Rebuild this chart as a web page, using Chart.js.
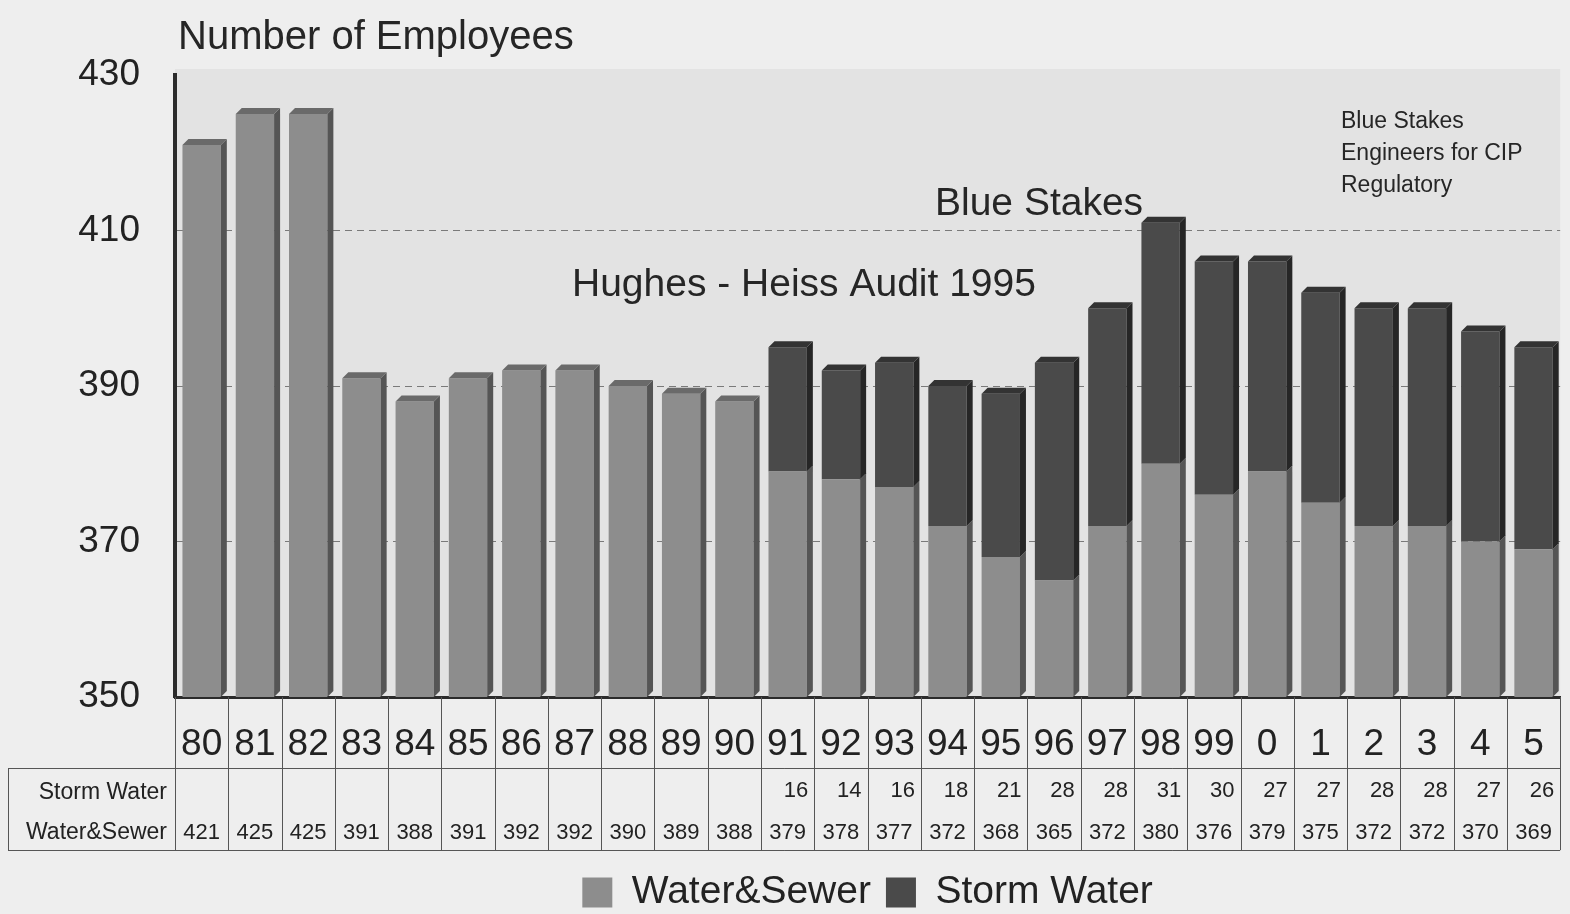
<!DOCTYPE html>
<html><head><meta charset="utf-8">
<script src="https://cdn.jsdelivr.net/npm/chart.js@4.4.1/dist/chart.umd.min.js"></script>
<style>html,body{margin:0;padding:0;background:#eeeeee;overflow:hidden}#wrap{width:1570px;height:914px;position:relative}</style>
</head><body><div id="wrap"><canvas id="c" width="1570" height="914"></canvas></div>
<script>
const years = ['80','81','82','83','84','85','86','87','88','89','90','91','92','93','94','95','96','97','98','99','0','1','2','3','4','5'];
const waterSewer = [421,425,425,391,388,391,392,392,390,389,388,379,378,377,372,368,365,372,380,376,379,375,372,372,370,369];
const stormWater = [null,null,null,null,null,null,null,null,null,null,null,16,14,16,18,21,28,28,31,30,27,27,28,28,27,26];
const yTickValues = [350,370,390,410,430];
const rowLabels = ['Storm Water','Water&Sewer'];
const annotations = [
  {text:'Number of Employees', size:40},
  {text:'Hughes - Heiss Audit 1995', size:39},
  {text:'Blue Stakes', size:39},
  {text:'Blue Stakes', size:23},
  {text:'Engineers for CIP', size:23},
  {text:'Regulatory', size:23}
];

const REG = "'Liberation Sans', Arial, Helvetica, sans-serif";
const WS_COLOR = '#8d8d8d', SW_COLOR = '#4a4a4a';
const WS_SIDE = '#555555', SW_SIDE = '#262626';
const WS_TOP = '#6a6a6a', SW_TOP = '#333333';

const bgPlugin = {
  id:'bg',
  beforeDraw(chart){
    const {ctx, chartArea:ca} = chart;
    ctx.save();
    ctx.fillStyle = '#eeeeee';
    ctx.fillRect(0,0,chart.width,chart.height);
    ctx.fillStyle = '#e3e3e3';
    ctx.fillRect(ca.left, ca.top-6, ca.right-ca.left, ca.bottom-ca.top+6);
    ctx.restore();
  }
};

const depthPlugin = {
  id:'depth3d',
  afterDatasetsDraw(chart){
    const ctx = chart.ctx; const d = 6; const ca = chart.chartArea;
    const metas = [chart.getDatasetMeta(0), chart.getDatasetMeta(1)];
    const sides = [WS_SIDE, SW_SIDE], tops = [WS_TOP, SW_TOP];
    ctx.save();
    metas.forEach((meta, di) => {
      meta.data.forEach((el, i) => {
        const ds = chart.data.datasets[di].data[i];
        if (ds === null || ds === undefined) return;
        const p = el.getProps(['x','y','base','width'], true);
        const left = p.x - p.width/2, right = p.x + p.width/2;
        const top = Math.min(p.y, p.base), bottom = Math.min(Math.max(p.y, p.base), ca.bottom);
        ctx.fillStyle = sides[di];
        ctx.beginPath();
        ctx.moveTo(right, bottom); ctx.lineTo(right, top);
        ctx.lineTo(right+d, top-d); ctx.lineTo(right+d, bottom-d);
        ctx.closePath(); ctx.fill();
        const isTop = di === 1 || stormWater[i] === null;
        if (isTop) {
          ctx.fillStyle = tops[di];
          ctx.beginPath();
          ctx.moveTo(left, top); ctx.lineTo(left+d, top-d);
          ctx.lineTo(right+d, top-d); ctx.lineTo(right, top);
          ctx.closePath(); ctx.fill();
        }
      });
    });
    ctx.restore();
  }
};

const tablePlugin = {
  id:'table',
  afterDraw(chart){
    const {ctx, chartArea:ca} = chart;
    const xs = chart.scales.x;
    const n = years.length;
    const colW = (ca.right - ca.left)/n;
    const rowTop = ca.bottom + 71, rowH = 41, tableBottom = rowTop + 2*rowH, tableLeft = 8;
    ctx.save();
    ctx.strokeStyle = '#555'; ctx.lineWidth = 1;
    ctx.beginPath();
    for (let i=0;i<=n;i++){
      const x = Math.round(ca.left + i*colW) + 0.5;
      ctx.moveTo(x, ca.bottom); ctx.lineTo(x, tableBottom);
    }
    ctx.moveTo(tableLeft, rowTop+0.5); ctx.lineTo(ca.right, rowTop+0.5);
    ctx.moveTo(tableLeft, tableBottom+0.5); ctx.lineTo(ca.right, tableBottom+0.5);
    ctx.moveTo(tableLeft+0.5, rowTop); ctx.lineTo(tableLeft+0.5, tableBottom);
    ctx.stroke();
    ctx.fillStyle = '#222';
    ctx.textBaseline = 'middle';
    ctx.font = '23px ' + REG;
    ctx.textAlign = 'right';
    ctx.fillText(rowLabels[0], ca.left - 8, rowTop + 25);
    ctx.fillText(rowLabels[1], ca.left - 8, rowTop + 65);
    ctx.font = '22px ' + REG;
    for (let i=0;i<n;i++){
      const cx = xs.getPixelForValue(i);
      if (stormWater[i] !== null) {
        ctx.textAlign = 'right';
        ctx.fillText(String(stormWater[i]), cx + colW/2 - 6, rowTop + 23);
      }
      ctx.textAlign = 'center';
      ctx.fillText(String(waterSewer[i]), cx, rowTop + 65);
    }
    ctx.restore();
  }
};

const annoPlugin = {
  id:'anno',
  afterDraw(chart){
    const {ctx, chartArea:ca} = chart;
    const pos = [
      [ca.left + 3, ca.top - 37],
      [ca.left + 397, ca.top + 210],
      [ca.left + 760, ca.top + 129],
      [ca.left + 1166, ca.top + 47],
      [ca.left + 1166, ca.top + 79],
      [ca.left + 1166, ca.top + 111]
    ];
    ctx.save();
    ctx.fillStyle = '#262626';
    ctx.textAlign = 'left'; ctx.textBaseline = 'middle';
    annotations.forEach((a, i) => {
      ctx.font = a.size + 'px ' + REG;
      ctx.fillText(a.text, pos[i][0], pos[i][1]);
    });
    ctx.restore();
  }
};

new Chart(document.getElementById('c'), {
  type:'bar',
  data:{
    labels: years,
    datasets:[
      {label:'Water&Sewer', data: waterSewer, backgroundColor: WS_COLOR, borderWidth:0, barPercentage:0.72, categoryPercentage:1},
      {label:'Storm Water', data: stormWater, backgroundColor: SW_COLOR, borderWidth:0, barPercentage:0.72, categoryPercentage:1}
    ]
  },
  options:{
    responsive:false,
    animation:false,
    layout:{padding:{top:75, right:9, left:0, bottom:-8}},
    plugins:{
      legend:{
        position:'bottom', fullSize:false,
        labels:{font:{size:39, family:REG}, color:'#222', boxWidth:30, boxHeight:30, padding:15}
      },
      tooltip:{enabled:false}
    },
    scales:{
      x:{
        stacked:true,
        grid:{display:false, drawTicks:false},
        border:{display:true, color:'#2b2b2b', width:3},
        ticks:{font:{size:37, family:REG}, color:'#222', padding:26, maxRotation:0, autoSkip:false},
        afterFit(s){ s.height = 161; }
      },
      y:{
        stacked:true,
        min:350, max:430,
        afterBuildTicks(s){ s.ticks = yTickValues.map(v => ({value:v})); },
        grid:{
          drawTicks:false,
          color:(c) => (c.tick && (c.tick.value === 350 || c.tick.value === 430)) ? 'rgba(0,0,0,0)' : '#7a7a7a',
          lineWidth:1
        },
        border:{display:true, color:'#2b2b2b', width:4, dash:[7,5]},
        ticks:{font:{size:37, family:REG}, color:'#222', padding:35},
        afterFit(s){ s.width = 175; }
      }
    }
  },
  plugins:[bgPlugin, depthPlugin, tablePlugin, annoPlugin]
});
</script></body></html>
